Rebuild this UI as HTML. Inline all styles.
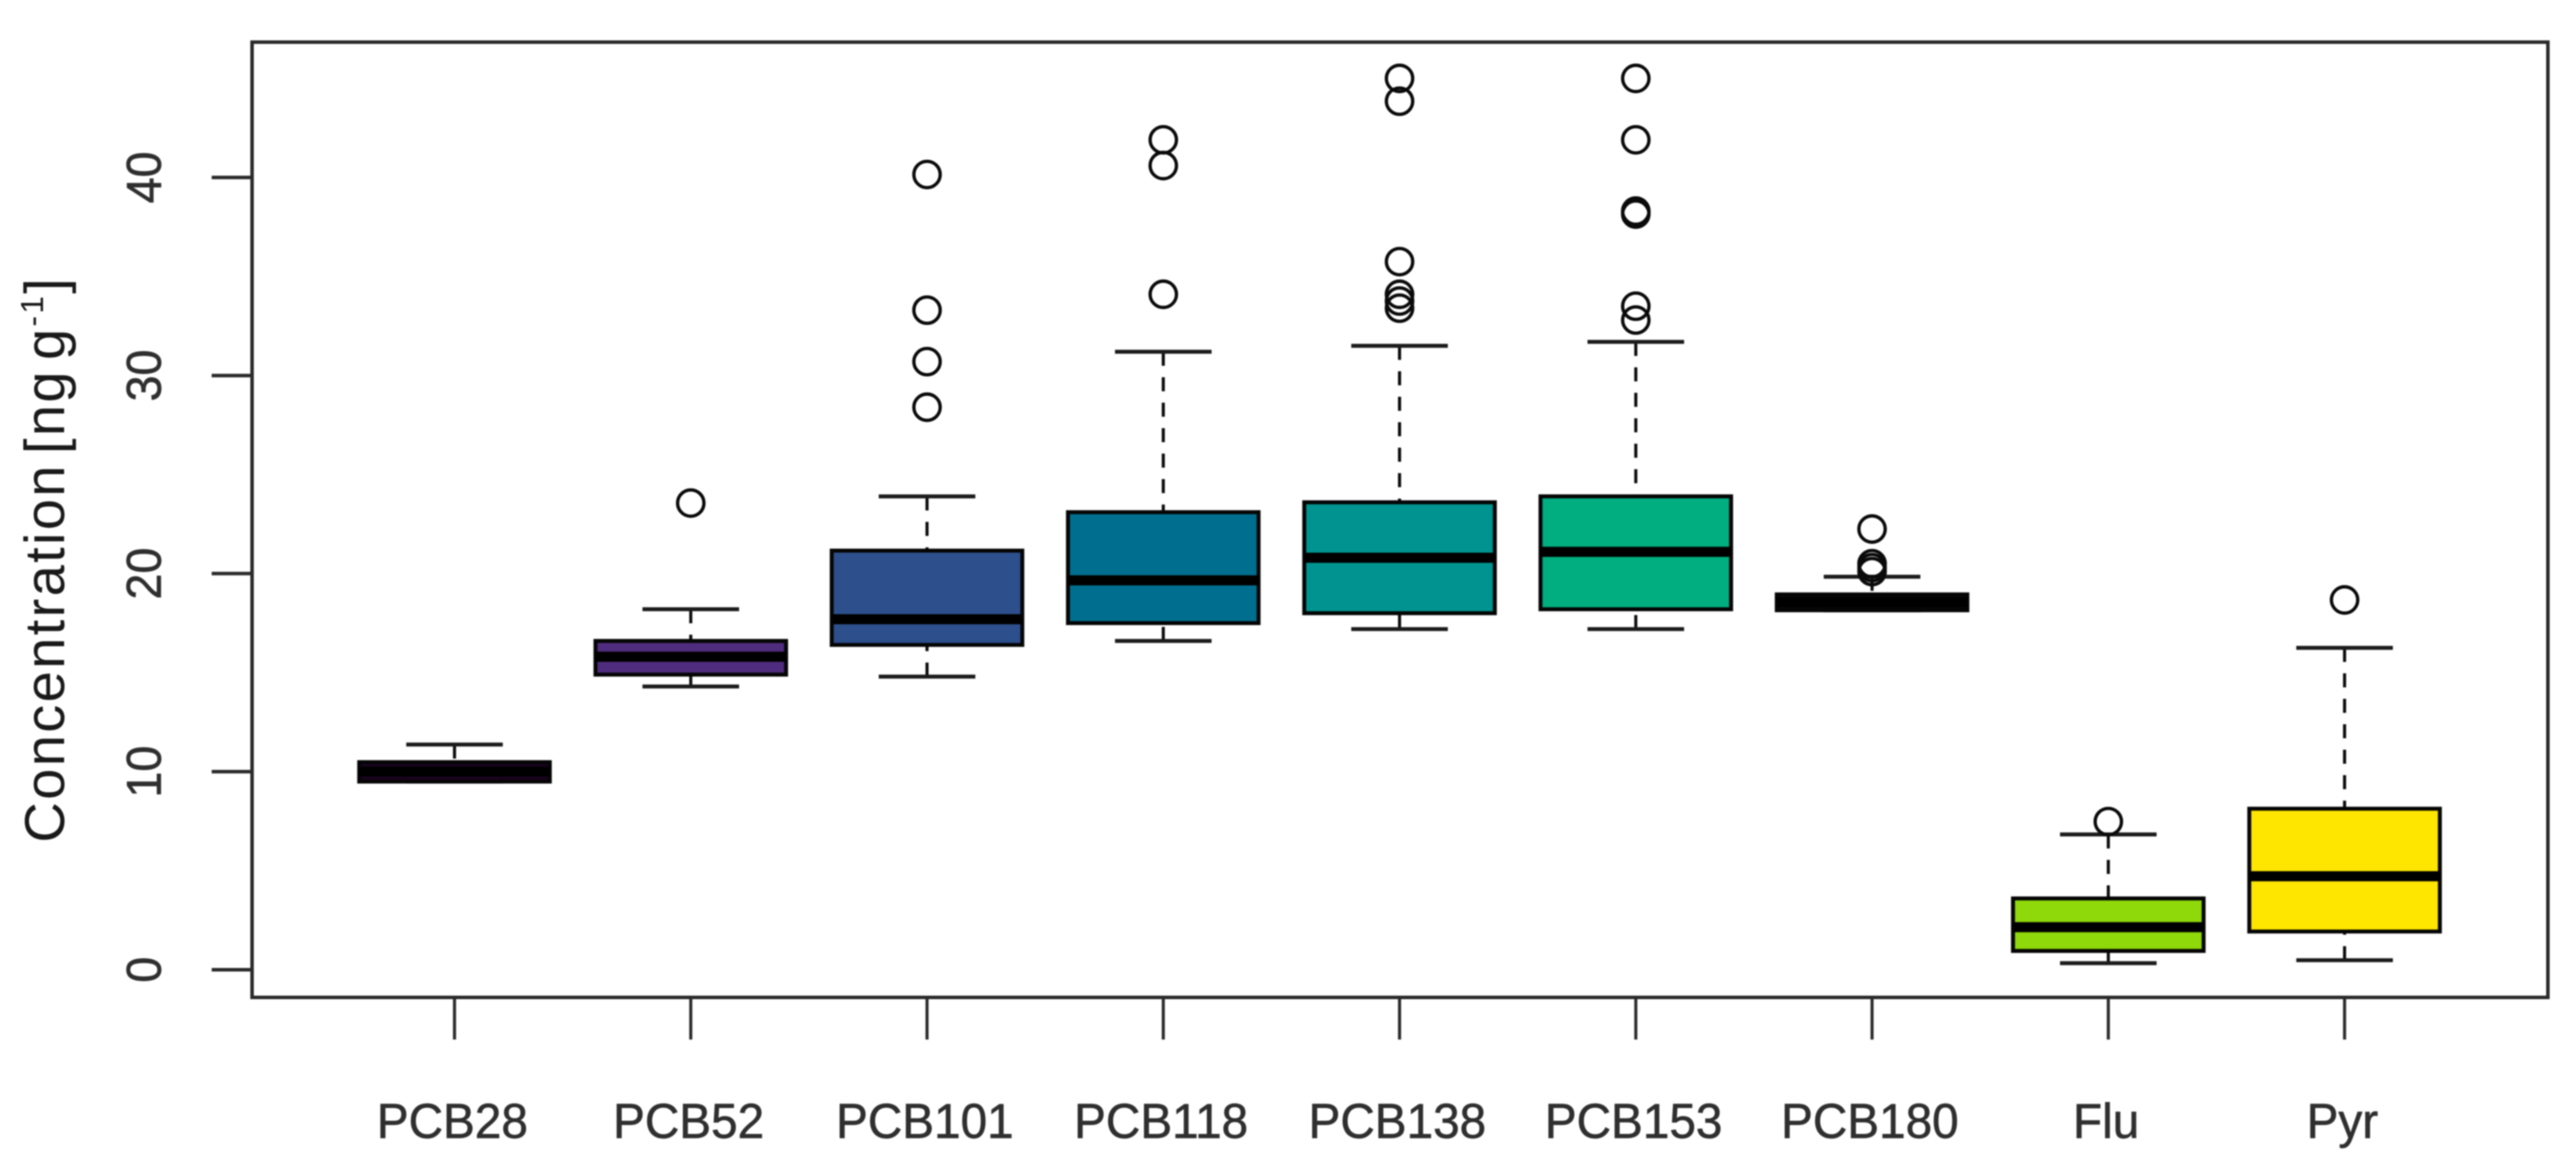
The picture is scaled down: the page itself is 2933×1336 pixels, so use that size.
<!DOCTYPE html>
<html lang="en">
<head>
<meta charset="utf-8">
<title>Concentration boxplot</title>
<style>
  html, body { margin: 0; padding: 0; background: #fff; }
  svg { display: block; filter: blur(0.7px); }
  text { font-family: "Liberation Sans", sans-serif; }
</style>
</head>
<body>
<svg id="chart" xmlns="http://www.w3.org/2000/svg" width="2933" height="1336" viewBox="0 0 2933 1336">
  <rect x="0" y="0" width="2933" height="1336" fill="#ffffff"/>
  <text transform="translate(73,637) rotate(-90)" text-anchor="middle" font-size="64" letter-spacing="2.6" word-spacing="-10" fill="#1a1a1a">Concentration [ng g<tspan dy="-24" font-size="36">-1</tspan><tspan dy="24">]</tspan></text>
</svg>
<script>
const categories = ['PCB28', 'PCB52', 'PCB101', 'PCB118', 'PCB138', 'PCB153', 'PCB180', 'Flu', 'Pyr'];
const q1Values = [9.5, 14.9, 16.4, 17.5, 18.0, 18.2, 18.15, 0.95, 1.93];
const medianValues = [10.0, 15.8, 17.7, 19.66, 20.8, 21.1, 18.55, 2.15, 4.72];
const q3Values = [10.48, 16.6, 21.16, 23.1, 23.6, 23.9, 18.95, 3.6, 8.13];
const whiskerLowValues = [9.5, 14.3, 14.8, 16.6, 17.2, 17.2, 18.15, 0.33, 0.48];
const whiskerHighValues = [11.37, 18.2, 23.9, 31.2, 31.5, 31.7, 19.84, 6.83, 16.25];
const outlierValues = [
  [],
  [23.56],
  [40.15, 33.3, 30.7, 28.4],
  [41.9, 40.6, 34.1],
  [45.0, 43.85, 35.75, 34.1, 33.76, 33.4],
  [45.0, 41.9, 38.3, 38.15, 33.5, 32.8],
  [22.25, 20.5, 20.3, 20.1],
  [7.48],
  [18.67]
];
const boxColors = ['#1a0320', '#4f2c7d', '#2d4f8c', '#006f8f', '#00938f', '#00ae80', '#0a0a0a', '#8fd80a', '#ffe600'];
const yTickValues = [0, 10, 20, 30, 40];

const svg = document.getElementById('chart');
const NS = 'http://www.w3.org/2000/svg';
const plotLeft = 287, plotTop = 48, plotRight = 2901, plotBottom = 1136;
const ink = '#0a0a0a';
const axisInk = '#2a2a2a';

function xScale(i) { return 517.5 + i * 269; }
function yScale(v) { return 1104.5 - v * 22.56; }

function make(tag, attrs, parent) {
  const el = document.createElementNS(NS, tag);
  for (const k in attrs) el.setAttribute(k, attrs[k]);
  (parent || svg).appendChild(el);
  return el;
}

const frame = make('rect', { x: plotLeft, y: plotTop, width: plotRight - plotLeft, height: plotBottom - plotTop, fill: 'none', stroke: axisInk, 'stroke-width': 4 });



yTickValues.forEach(function (v) {
  const tick = make('line', { x1: 241, x2: plotLeft, y1: yScale(v), y2: yScale(v), stroke: axisInk, 'stroke-width': 4 });
  
  
  const label = make('text', { transform: 'translate(183,' + yScale(v) + ') rotate(-90) scale(0.95,1)', 'text-anchor': 'middle', 'font-size': 56, fill: '#2f2f2f', stroke: '#2f2f2f', 'stroke-width': 0.7 });
  label.textContent = String(v);
  
  
});

categories.forEach(function (name, i) {
  const cx = xScale(i);
  const boxHalf = 108.5, capHalf = 55;
  const key = name.toLowerCase();

  const tick = make('line', { x1: cx, x2: cx, y1: plotBottom, y2: 1184, stroke: axisInk, 'stroke-width': 3.5 });
  
  

  const label = make('text', { transform: 'translate(' + (cx - 2.5) + ',1296) scale(0.97,1)', 'text-anchor': 'middle', 'font-size': 56, fill: '#2f2f2f', stroke: '#2f2f2f', 'stroke-width': 0.7 });
  label.textContent = name;
  
  

  const wHighLine = make('line', { x1: cx, x2: cx, y1: yScale(whiskerHighValues[i]), y2: yScale(q3Values[i]), stroke: ink, 'stroke-width': 3.5, 'stroke-dasharray': '16 13' });
  
  

  const wLowLine = make('line', { x1: cx, x2: cx, y1: yScale(whiskerLowValues[i]), y2: yScale(q1Values[i]), stroke: ink, 'stroke-width': 3.5, 'stroke-dasharray': '16 13' });
  
  

  const capHigh = make('line', { x1: cx - capHalf, x2: cx + capHalf, y1: yScale(whiskerHighValues[i]), y2: yScale(whiskerHighValues[i]), stroke: '#1c1c1c', 'stroke-width': 4.5 });
  
  

  const capLow = make('line', { x1: cx - capHalf, x2: cx + capHalf, y1: yScale(whiskerLowValues[i]), y2: yScale(whiskerLowValues[i]), stroke: '#1c1c1c', 'stroke-width': 4.5 });
  
  

  const box = make('rect', { x: cx - boxHalf, y: yScale(q3Values[i]), width: boxHalf * 2, height: yScale(q1Values[i]) - yScale(q3Values[i]), fill: boxColors[i], stroke: '#050505', 'stroke-width': 4.5 });
  
  

  const med = make('line', { x1: cx - boxHalf, x2: cx + boxHalf, y1: yScale(medianValues[i]), y2: yScale(medianValues[i]), stroke: '#000000', 'stroke-width': 11.5 });
  
  

  outlierValues[i].forEach(function (v, j) {
    const pt = make('circle', { cx: cx, cy: yScale(v), r: 15, fill: 'none', stroke: ink, 'stroke-width': 3.8 });
    
    
  });
});
</script>
</body>
</html>
